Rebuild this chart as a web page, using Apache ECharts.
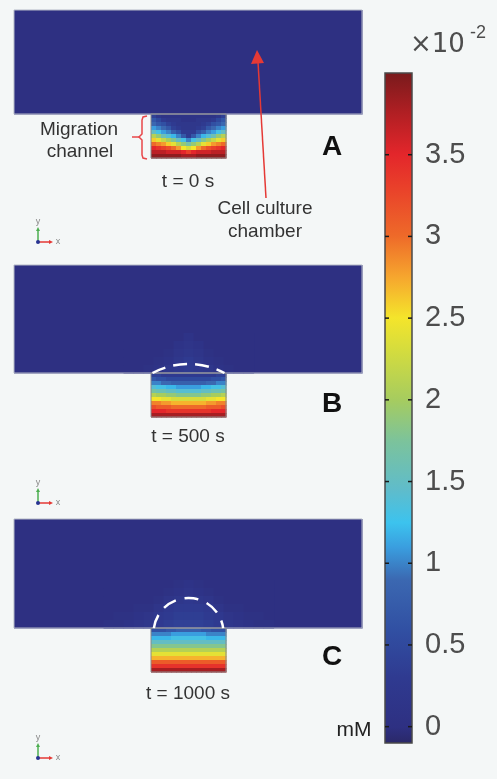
<!DOCTYPE html>
<html>
<head>
    <meta charset="utf-8">
    <title>Migration channel concentration</title>
    <script src="https://cdn.jsdelivr.net/npm/echarts@6.0.0/dist/echarts.min.js"></script>
    <style>
        html, body {
            margin: 0;
            padding: 0;
            background: #f4f7f7;
        }

        #chart {
            width: 497px;
            height: 779px;
        }
    </style>
</head>
<body>
<div id="chart"></div>
<script>
    // concentration in units of 1e-2 mM
    // channel: 11 rows (top -> bottom) x 15 columns (left -> right)
    const panelLabels = ['A', 'B', 'C'];
    const timeLabels = ['t = 0 s', 't = 500 s', 't = 1000 s'];

    const channelA = [
        [0.4, 0.2, 0.1, 0.1, 0.1, 0.1, 0.1, 0.1, 0.1, 0.1, 0.1, 0.1, 0.1, 0.2, 0.4],
        [0.7, 0.5, 0.3, 0.2, 0.2, 0.2, 0.1, 0.1, 0.1, 0.2, 0.2, 0.2, 0.3, 0.5, 0.7],
        [0.9, 0.7, 0.6, 0.4, 0.3, 0.2, 0.2, 0.2, 0.2, 0.2, 0.3, 0.4, 0.6, 0.7, 0.9],
        [1.1, 1.0, 0.9, 0.7, 0.4, 0.3, 0.2, 0.2, 0.2, 0.3, 0.4, 0.7, 0.9, 1.0, 1.1],
        [1.5, 1.3, 1.1, 1.0, 0.8, 0.6, 0.3, 0.3, 0.3, 0.6, 0.8, 1.0, 1.1, 1.3, 1.5],
        [2.1, 1.9, 1.6, 1.4, 1.2, 1.0, 0.7, 0.3, 0.7, 1.0, 1.2, 1.4, 1.6, 1.9, 2.1],
        [2.6, 2.4, 2.2, 2.0, 1.8, 1.5, 1.3, 1.0, 1.3, 1.5, 1.8, 2.0, 2.2, 2.4, 2.6],
        [3.0, 2.9, 2.8, 2.6, 2.4, 2.1, 1.9, 1.7, 1.9, 2.1, 2.4, 2.6, 2.8, 2.9, 3.0],
        [3.5, 3.4, 3.3, 3.2, 3.0, 2.8, 2.5, 2.3, 2.5, 2.8, 3.0, 3.2, 3.3, 3.4, 3.5],
        [3.7, 3.7, 3.7, 3.6, 3.6, 3.6, 3.5, 3.3, 3.5, 3.6, 3.6, 3.6, 3.7, 3.7, 3.7],
        [3.9, 3.9, 3.9, 3.9, 3.9, 3.9, 3.8, 3.8, 3.8, 3.9, 3.9, 3.9, 3.9, 3.9, 3.9]
    ];
    const channelB = [
        [0.4, 0.4, 0.3, 0.3, 0.3, 0.3, 0.3, 0.3, 0.3, 0.3, 0.3, 0.3, 0.3, 0.4, 0.4],
        [0.7, 0.6, 0.6, 0.5, 0.5, 0.5, 0.5, 0.5, 0.5, 0.5, 0.5, 0.5, 0.6, 0.6, 0.7],
        [1.0, 1.0, 0.9, 0.9, 0.8, 0.8, 0.8, 0.8, 0.8, 0.8, 0.8, 0.9, 0.9, 1.0, 1.0],
        [1.4, 1.3, 1.3, 1.2, 1.2, 1.1, 1.1, 1.1, 1.1, 1.1, 1.2, 1.2, 1.3, 1.3, 1.4],
        [1.7, 1.6, 1.6, 1.5, 1.5, 1.4, 1.4, 1.4, 1.4, 1.4, 1.5, 1.5, 1.6, 1.6, 1.7],
        [2.1, 2.0, 2.0, 1.9, 1.9, 1.8, 1.8, 1.8, 1.8, 1.8, 1.9, 1.9, 2.0, 2.0, 2.1],
        [2.5, 2.5, 2.4, 2.4, 2.3, 2.3, 2.3, 2.3, 2.3, 2.3, 2.3, 2.4, 2.4, 2.5, 2.5],
        [2.9, 2.9, 2.8, 2.8, 2.7, 2.7, 2.7, 2.7, 2.7, 2.7, 2.7, 2.8, 2.8, 2.9, 2.9],
        [3.2, 3.1, 3.1, 3.1, 3.0, 3.0, 3.0, 3.0, 3.0, 3.0, 3.0, 3.1, 3.1, 3.1, 3.2],
        [3.5, 3.5, 3.5, 3.4, 3.4, 3.4, 3.4, 3.4, 3.4, 3.4, 3.4, 3.4, 3.5, 3.5, 3.5],
        [3.8, 3.8, 3.8, 3.8, 3.8, 3.8, 3.8, 3.8, 3.8, 3.8, 3.8, 3.8, 3.8, 3.8, 3.8]
    ];
    const channelC = [
        [0.6, 0.6, 0.6, 0.7, 0.7, 0.8, 0.8, 0.8, 0.8, 0.8, 0.7, 0.7, 0.6, 0.6, 0.6],
        [1.0, 1.0, 1.0, 1.0, 1.1, 1.1, 1.1, 1.1, 1.1, 1.1, 1.1, 1.0, 1.0, 1.0, 1.0],
        [1.2, 1.2, 1.2, 1.2, 1.3, 1.3, 1.3, 1.3, 1.3, 1.3, 1.3, 1.2, 1.2, 1.2, 1.2],
        [1.5, 1.5, 1.5, 1.5, 1.5, 1.5, 1.5, 1.5, 1.5, 1.5, 1.5, 1.5, 1.5, 1.5, 1.5],
        [1.8, 1.8, 1.8, 1.8, 1.8, 1.8, 1.8, 1.8, 1.8, 1.8, 1.8, 1.8, 1.8, 1.8, 1.8],
        [2.1, 2.1, 2.1, 2.1, 2.1, 2.1, 2.1, 2.1, 2.1, 2.1, 2.1, 2.1, 2.1, 2.1, 2.1],
        [2.4, 2.4, 2.4, 2.4, 2.4, 2.4, 2.4, 2.4, 2.4, 2.4, 2.4, 2.4, 2.4, 2.4, 2.4],
        [2.7, 2.7, 2.7, 2.7, 2.7, 2.7, 2.7, 2.7, 2.7, 2.7, 2.7, 2.7, 2.7, 2.7, 2.7],
        [3.1, 3.1, 3.1, 3.1, 3.1, 3.1, 3.1, 3.1, 3.1, 3.1, 3.1, 3.1, 3.1, 3.1, 3.1],
        [3.4, 3.4, 3.4, 3.4, 3.4, 3.4, 3.4, 3.4, 3.4, 3.4, 3.4, 3.4, 3.4, 3.4, 3.4],
        [3.8, 3.8, 3.8, 3.8, 3.8, 3.8, 3.8, 3.8, 3.8, 3.8, 3.8, 3.8, 3.8, 3.8, 3.8]
    ];

    // faint plume in the chamber above the channel mouth (rows top -> bottom)
    const plumeA = [];
    const plumeB = [
        [0, 0, 0, 0, 0, 0, 0.1, 0, 0, 0, 0, 0, 0],
        [0, 0, 0, 0, 0, 0.1, 0.15, 0.1, 0, 0, 0, 0, 0],
        [0, 0, 0, 0, 0.05, 0.15, 0.2, 0.15, 0.05, 0, 0, 0, 0],
        [0, 0, 0, 0.05, 0.1, 0.2, 0.3, 0.2, 0.1, 0.05, 0, 0, 0],
        [0, 0, 0.05, 0.1, 0.2, 0.25, 0.3, 0.25, 0.2, 0.1, 0.05, 0, 0]
    ];
    const plumeC = [
        [0, 0, 0, 0, 0, 0, 0, 0.05, 0.1, 0.05, 0, 0, 0, 0, 0, 0, 0],
        [0, 0, 0, 0, 0, 0, 0.05, 0.1, 0.15, 0.1, 0.05, 0, 0, 0, 0, 0, 0],
        [0, 0, 0, 0, 0, 0.05, 0.15, 0.2, 0.25, 0.2, 0.15, 0.05, 0, 0, 0, 0, 0],
        [0, 0, 0, 0.05, 0.05, 0.15, 0.25, 0.3, 0.3, 0.3, 0.25, 0.15, 0.05, 0.05, 0, 0, 0],
        [0, 0.05, 0.05, 0.1, 0.15, 0.25, 0.3, 0.35, 0.35, 0.35, 0.3, 0.25, 0.15, 0.1, 0.05, 0.05, 0],
        [0.05, 0.05, 0.1, 0.15, 0.2, 0.3, 0.35, 0.4, 0.4, 0.4, 0.35, 0.3, 0.2, 0.15, 0.1, 0.05, 0.05]
    ];
    const chamberLevel = [0, 0, 0];

    // colour scale (rainbow), values in 1e-2 mM
    const scaleValues = [-0.1, 0, 0.3, 0.6, 0.9, 1.1, 1.25, 1.45, 1.75, 2.0, 2.3, 2.5, 2.75, 3.0, 3.3, 3.5, 3.75, 4.0];
    const scaleColors = ['#2a2867', '#2e3082', '#2f3a90', '#3150a3', '#3b68b1', '#3a9edf', '#3cc3ee', '#5fbccb',
        '#7cc39b', '#a6cc5f', '#d4dc3e', '#f4e52b', '#f6a62e', '#ee6a29', '#e9402a', '#e3262b', '#b11f23', '#781a1c'];
    const tickValues = [0, 0.5, 1, 1.5, 2, 2.5, 3, 3.5];

    // geometry (drawing units, 1 unit ~ 1 px)
    const geo = {width: 348, chanX0: 137, chanH: 44, cellW: 5, cellH: 4, plumeW: 10, plumeH: 8};
    const panels = [
        {top: 10, height: 148, channel: channelA, plume: plumeA, plumeX0: 109.5, arc: null},
        {
            top: 265, height: 152, channel: channelB, plume: plumeB, plumeX0: 109.5,
            arc: {cx: 174.5, cy: -23.5, r: 76.5, a0: 1.5 * Math.PI - 0.49, a1: 1.5 * Math.PI + 0.49, dash: [14, 8]}
        },
        {
            top: 519, height: 153, channel: channelC, plume: plumeC, plumeX0: 89.5,
            arc: {cx: 174.5, cy: 39, r: 35, a0: Math.PI + 0.14, a1: 2 * Math.PI - 0.14, dash: [14, 9]}
        }
    ];
    const vMin = scaleValues[0], vMax = scaleValues[scaleValues.length - 1];

    function colorOf(v) {
        if (v <= vMin) return scaleColors[0];
        for (let i = 0; i < scaleValues.length - 1; i++) {
            if (v <= scaleValues[i + 1]) {
                const t = (v - scaleValues[i]) / (scaleValues[i + 1] - scaleValues[i]);
                return echarts.color.lerp(t, [scaleColors[i], scaleColors[i + 1]]);
            }
        }
        return scaleColors[scaleColors.length - 1];
    }

    // build [x0, x1, y0, y1, value] cells for one panel
    function buildCells(p, i) {
        const cells = [[0, geo.width, geo.chanH, p.height, chamberLevel[i]]];
        const nPlume = p.plume.length;
        p.plume.forEach(function (row, k) {
            row.forEach(function (v, j) {
                const y0 = geo.chanH + (nPlume - 1 - k) * geo.plumeH;
                const x0 = p.plumeX0 + j * geo.plumeW;
                cells.push([x0, x0 + geo.plumeW, y0, y0 + geo.plumeH, v]);
            });
        });
        p.channel.forEach(function (row, k) {
            row.forEach(function (v, j) {
                const y1 = geo.chanH - k * geo.cellH;
                const x0 = geo.chanX0 + j * geo.cellW;
                cells.push([x0, x0 + geo.cellW, y1 - geo.cellH, y1, v]);
            });
        });
        return cells;
    }

    function fieldItem(params, api) {
        const a = api.coord([api.value(0), api.value(3)]);
        const b = api.coord([api.value(1), api.value(2)]);
        return {
            type: 'rect',
            shape: {x: a[0], y: a[1], width: b[0] - a[0] + 0.6, height: b[1] - a[1] + 0.6},
            style: {fill: colorOf(api.value(4))}
        };
    }

    function outlineItem(p) {
        return function (params, api) {
            const c0 = api.coord([0, p.height]), c1 = api.coord([geo.width, geo.chanH]);
            const h0 = api.coord([geo.chanX0, geo.chanH]);
            const h1 = api.coord([geo.chanX0 + geo.cellW * 15, 0]);
            const children = [
                {
                    type: 'rect', shape: {x: c0[0], y: c0[1], width: c1[0] - c0[0], height: c1[1] - c0[1]},
                    style: {fill: null, stroke: '#b4b8c6', lineWidth: 1}
                },
                {
                    type: 'rect', shape: {x: h0[0], y: h0[1], width: h1[0] - h0[0], height: h1[1] - h0[1]},
                    style: {fill: null, stroke: '#8a8a8a', lineWidth: 1}
                }
            ];
            if (p.arc) {
                const c = api.coord([p.arc.cx, p.arc.cy]);
                const r = api.size([p.arc.r, 0])[0];
                children.push({
                    type: 'arc',
                    shape: {cx: c[0], cy: c[1], r: r, startAngle: p.arc.a0, endAngle: p.arc.a1, clockwise: true},
                    style: {fill: null, stroke: '#ffffff', lineWidth: 2.5, lineDash: p.arc.dash}
                });
            }
            return {type: 'group', children: children};
        };
    }

    const grids = [], xAxes = [], yAxes = [], series = [];
    panels.forEach(function (p, i) {
        grids.push({left: 14, top: p.top, width: geo.width, height: p.height});
        xAxes.push({type: 'value', gridIndex: i, min: 0, max: geo.width, show: false});
        yAxes.push({type: 'value', gridIndex: i, min: 0, max: p.height, show: false});
        series.push({
            type: 'custom', xAxisIndex: i, yAxisIndex: i, silent: true, clip: false,
            renderItem: fieldItem, data: buildCells(p, i)
        });
        series.push({
            type: 'custom', xAxisIndex: i, yAxisIndex: i, silent: true, clip: false,
            renderItem: outlineItem(p), data: [[0]]
        });
    });

    // colour bar: gradient rect, tick marks drawn on both inner edges, labels from the axis
    grids.push({left: 385, top: 73, width: 27, height: 670});
    xAxes.push({type: 'value', gridIndex: 3, min: 0, max: 1, show: false});
    yAxes.push({
        type: 'value', gridIndex: 3, position: 'right', min: vMin, max: vMax,
        axisLine: {show: false}, splitLine: {show: false}, axisTick: {show: false},
        axisLabel: {
            show: true, margin: 13, fontSize: 29, customValues: tickValues,
            fontFamily: '"Liberation Sans", Arial, sans-serif', color: '#4d4d4d'
        }
    });
    const barStops = scaleValues.map(function (v, i) {
        return {offset: (v - vMin) / (vMax - vMin), color: scaleColors[i]};
    });
    series.push({
        type: 'custom', xAxisIndex: 3, yAxisIndex: 3, silent: true, clip: false,
        data: [[0, 1, vMin, vMax]],
        renderItem: function (params, api) {
            const a = api.coord([api.value(0), api.value(3)]);
            const b = api.coord([api.value(1), api.value(2)]);
            const children = [{
                type: 'rect',
                shape: {x: a[0], y: a[1], width: b[0] - a[0], height: b[1] - a[1]},
                style: {
                    fill: new echarts.graphic.LinearGradient(0, 1, 0, 0, barStops),
                    stroke: '#4a4a4a', lineWidth: 1.5
                }
            }];
            tickValues.forEach(function (t) {
                const y = api.coord([0, t])[1];
                children.push({
                    type: 'line', shape: {x1: a[0], y1: y, x2: a[0] + 4, y2: y},
                    style: {stroke: '#1a1a1a', lineWidth: 1.5}
                });
                children.push({
                    type: 'line', shape: {x1: b[0] - 4, y1: y, x2: b[0], y2: y},
                    style: {stroke: '#1a1a1a', lineWidth: 1.5}
                });
            });
            return {type: 'group', children: children};
        }
    });

    // annotations
    const txtFont = '"Liberation Sans", Arial, sans-serif';

    function txt(x, y, s, size, opt) {
        return {
            type: 'text', x: x, y: y, silent: true, z: 100,
            style: Object.assign({
                text: s, fontSize: size, fontFamily: txtFont, fill: '#333',
                align: 'center', verticalAlign: 'middle'
            }, opt || {})
        };
    }

    function triad(ox, oy) {
        return {
            type: 'group', x: ox, y: oy, silent: true,
            children: [
                {type: 'line', shape: {x1: 0, y1: 0, x2: 0, y2: -12}, style: {stroke: '#4caf50', lineWidth: 1.5}},
                {type: 'polygon', shape: {points: [[-2, -11], [2, -11], [0, -15]]}, style: {fill: '#4caf50'}},
                {type: 'line', shape: {x1: 0, y1: 0, x2: 12, y2: 0}, style: {stroke: '#e53935', lineWidth: 1.5}},
                {type: 'polygon', shape: {points: [[11, -2], [11, 2], [15, 0]]}, style: {fill: '#e53935'}},
                {type: 'circle', shape: {cx: 0, cy: 0, r: 2}, style: {fill: '#283593'}},
                txt(0, -20, 'y', 9, {fill: '#888'}),
                txt(20, 0, 'x', 9, {fill: '#888'})
            ]
        };
    }

    const timeY = [182, 437, 694];
    const letterY = [147, 404, 657];
    const triadY = [242, 503, 758];
    const graphics = [];
    panels.forEach(function (p, i) {
        graphics.push(txt(188, timeY[i], timeLabels[i], 19));
        graphics.push(txt(332, letterY[i], panelLabels[i], 28, {fontWeight: 'bold', fill: '#111'}));
        graphics.push(triad(38, triadY[i]));
    });
    graphics.push(txt(79, 130, 'Migration', 19));
    graphics.push(txt(80, 152, 'channel', 19));
    graphics.push(txt(265, 209, 'Cell culture', 19));
    graphics.push(txt(265, 232, 'chamber', 19));
    graphics.push(txt(354, 730, 'mM', 21, {fill: '#222'}));
    graphics.push(txt(410, 32, '×10', 26, {align: 'left', verticalAlign: 'top', fill: '#4d4d4d', fontFamily: '"DejaVu Sans", sans-serif'}));
    graphics.push(txt(470, 24, '-2', 18, {align: 'left', verticalAlign: 'top', fill: '#4d4d4d'}));
    // bracket beside the channel
    graphics.push({
        type: 'polyline', silent: true, z: 100,
        shape: {points: [[147, 116], [143, 117], [142, 120], [142, 134], [139, 137], [142, 140], [142, 155], [143, 158], [147, 159]]},
        style: {stroke: '#e8474a', lineWidth: 1.5, fill: null}
    });
    graphics.push({
        type: 'line', silent: true, z: 100, shape: {x1: 132, y1: 137, x2: 139, y2: 137},
        style: {stroke: '#e8474a', lineWidth: 1.5}
    });
    // arrow to the chamber
    graphics.push({
        type: 'line', silent: true, z: 100, shape: {x1: 266, y1: 198, x2: 258, y2: 62},
        style: {stroke: '#e53935', lineWidth: 1.5}
    });
    graphics.push({
        type: 'polygon', silent: true, z: 100, shape: {points: [[257, 50], [251, 64], [264, 63]]},
        style: {fill: '#e53935'}
    });

    const chart = echarts.init(document.getElementById('chart'));
    chart.setOption({
        backgroundColor: '#f4f7f7',
        animation: false,
        grid: grids,
        xAxis: xAxes,
        yAxis: yAxes,
        series: series,
        graphic: graphics
    });
</script>
</body>
</html>
